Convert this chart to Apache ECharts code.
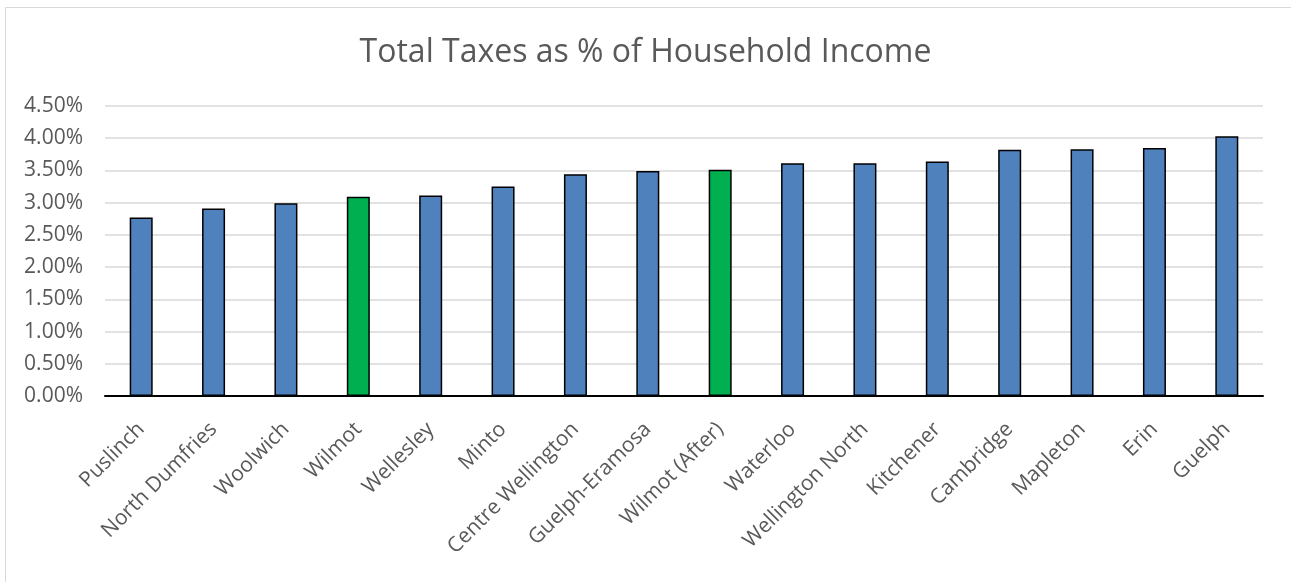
<!DOCTYPE html>
<html>
<head>
<meta charset="utf-8">
<script src="https://cdn.jsdelivr.net/npm/echarts@6/dist/echarts.min.js"></script>
<style>
html,body{margin:0;padding:0;background:#fff;}
#c{width:1291px;height:582px;}
</style>
</head>
<body>
<div id="c"></div>
<script>
const categories = ["Puslinch","North Dumfries","Woolwich","Wilmot","Wellesley","Minto","Centre Wellington","Guelph-Eramosa","Wilmot (After)","Waterloo","Wellington North","Kitchener","Cambridge","Mapleton","Erin","Guelph"];
const values = [2.77,2.91,2.99,3.09,3.11,3.25,3.44,3.49,3.51,3.61,3.61,3.64,3.82,3.83,3.85,4.03];
const highlighted = ["Wilmot","Wilmot (After)"];
const yTicks = [0,0.5,1,1.5,2,2.5,3,3.5,4,4.5];

const FONT = '"Open Sans", sans-serif';
const chart = echarts.init(document.getElementById('c'));
chart.setOption({
  animation:false,
  backgroundColor:'#fff',
  graphic:[{type:'rect',shape:{x:5.5,y:7.5,width:1300,height:600},style:{fill:'none',stroke:'#d9d9d9',lineWidth:1},silent:true}],
  title:{text:'Total Taxes as % of Household Income',left:'center',top:32,
    textStyle:{fontFamily:FONT,fontSize:32,fontWeight:'normal',color:'#595959'}},
  grid:{left:105,right:28,top:106,bottom:186,containLabel:false},
  xAxis:{type:'category',data:categories,
    axisLine:{lineStyle:{color:'#000',width:2}},
    axisTick:{show:false},
    axisLabel:{rotate:45,interval:0,margin:30,fontFamily:FONT,fontSize:21,color:'#595959'}},
  yAxis:{type:'value',min:0,max:4.5,interval:0.5,
    axisLine:{show:false},axisTick:{show:false},
    splitLine:{lineStyle:{color:'#d9d9d9',width:1.5}},
    axisLabel:{margin:22,fontFamily:FONT,fontSize:21,color:'#595959',
      formatter:v=>v.toFixed(2)+'%'}},
  series:[{type:'bar',barWidth:23,
    data:values.map((v,i)=>({value:v,itemStyle:{color:highlighted.includes(categories[i])?'#00B050':'#4F81BD'}})),
    itemStyle:{borderColor:'#000',borderWidth:1.5}}]
});
</script>
</body>
</html>
